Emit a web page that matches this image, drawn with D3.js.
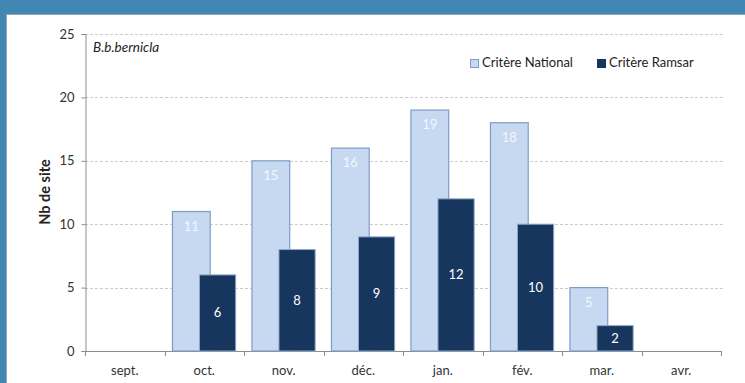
<!DOCTYPE html>
<html>
<head>
<meta charset="utf-8">
<script src="https://cdn.jsdelivr.net/npm/d3@7"></script>
<style>
  html, body { margin: 0; padding: 0; background: #4287b4; }
  svg { display: block; font-family: Lato, "Open Sans", sans-serif; }
</style>
</head>
<body>
<svg id="chart" width="745" height="383"></svg>
<script>
const categories = ["sept.", "oct.", "nov.", "déc.", "jan.", "fév.", "mar.", "avr."];
const nationalValues = [null, 11, 15, 16, 19, 18, 5, null];
const ramsarValues = [null, 6, 8, 9, 12, 10, 2, null];
const yTicks = [0, 5, 10, 15, 20, 25];
const seriesNames = ["Critère National", "Critère Ramsar"];
const speciesLabel = "B.b.bernicla";
const yTitle = "Nb de site";

const svg = d3.select("#chart");
const W = 745, H = 383;

// blue frame + white panel
svg.append("rect").attr("x", 0).attr("y", 0).attr("width", W).attr("height", H).attr("fill", "#4287b4");
svg.append("rect").attr("x", 6).attr("y", 14).attr("width", W - 6).attr("height", H - 14).attr("fill", "#9aa6ae");
svg.append("rect").attr("x", 7).attr("y", 15).attr("width", W - 7).attr("height", H - 15).attr("fill", "#ffffff");

const plot = { left: 85, right: 721, top: 34, bottom: 351 };

const x = d3.scaleBand().domain(categories).range([plot.left, plot.right]).padding(0);
const y = d3.scaleLinear().domain([0, 25]).range([plot.bottom, plot.top]);
const bw = x.bandwidth();

// gridlines
svg.append("g").selectAll("line").data(yTicks.filter(t => t > 0)).join("line")
  .attr("x1", plot.left).attr("x2", plot.right + 2)
  .attr("y1", d => Math.round(y(d)) + 0.5).attr("y2", d => Math.round(y(d)) + 0.5)
  .attr("stroke", "#cccccc").attr("stroke-dasharray", "3,2").attr("stroke-width", 1);

// y axis
const yAxis = svg.append("g").attr("transform", `translate(${plot.left + 0.5},0)`)
  .call(d3.axisLeft(y).tickValues(yTicks).tickSize(4).tickPadding(7));
yAxis.select(".domain").attr("stroke", "#8c8c8c");
yAxis.selectAll(".tick line").attr("stroke", "#8c8c8c");
yAxis.selectAll(".tick text").attr("font-size", 13).attr("fill", "#333").attr("font-family", "Lato, sans-serif");

// x axis
const xAxis = svg.append("g").attr("transform", `translate(0,${plot.bottom + 0.5})`)
  .call(d3.axisBottom(x).tickSize(0).tickPadding(14));
xAxis.select(".domain").remove();
xAxis.selectAll(".tick text").attr("font-size", 13).attr("fill", "#333").attr("font-family", "Lato, sans-serif");
svg.append("line").attr("x1", plot.left).attr("x2", plot.right)
  .attr("y1", plot.bottom + 0.5).attr("y2", plot.bottom + 0.5).attr("stroke", "#8c8c8c");
const bounds = categories.map(c => x(c)).concat([x(categories[categories.length - 1]) + bw]);
svg.append("g").selectAll("line").data(bounds).join("line")
  .attr("x1", d => Math.round(d) + 0.5).attr("x2", d => Math.round(d) + 0.5)
  .attr("y1", plot.bottom).attr("y2", plot.bottom + 5).attr("stroke", "#8c8c8c");

// bars
const natOff = bw * 0.10, natW = bw * 0.475;
const ramOff = bw * 0.44, ramW = bw * 0.455;

const natData = categories.map((c, i) => ({ c, v: nationalValues[i] })).filter(d => d.v != null);
const ramData = categories.map((c, i) => ({ c, v: ramsarValues[i] })).filter(d => d.v != null);

svg.append("g").selectAll("rect").data(natData).join("rect")
  .attr("x", d => x(d.c) + natOff).attr("width", natW)
  .attr("y", d => y(d.v)).attr("height", d => y(0) - y(d.v))
  .attr("fill", "#c6d9f1").attr("stroke", "#7f9bc6").attr("stroke-width", 1.2);

svg.append("g").selectAll("text").data(natData).join("text")
  .attr("x", d => x(d.c) + natOff + natW / 2).attr("y", d => y(d.v) + 16)
  .attr("text-anchor", "middle").attr("dominant-baseline", "middle")
  .attr("font-size", 13).attr("fill", "#f4f7fb").text(d => d.v);

svg.append("g").selectAll("rect").data(ramData).join("rect")
  .attr("x", d => x(d.c) + ramOff).attr("width", ramW)
  .attr("y", d => y(d.v)).attr("height", d => y(0) - y(d.v))
  .attr("fill", "#17365d").attr("stroke", "#8fa6c8").attr("stroke-width", 1);

svg.append("g").selectAll("text").data(ramData).join("text")
  .attr("x", d => x(d.c) + ramOff + ramW / 2).attr("y", d => (y(d.v) + y(0)) / 2 + 1)
  .attr("text-anchor", "middle").attr("dominant-baseline", "middle")
  .attr("font-size", 13).attr("fill", "#ffffff").text(d => d.v);

// species label
svg.append("text").attr("x", 93).attr("y", 52).attr("font-style", "italic")
  .attr("font-size", 13.5).attr("fill", "#222").text(speciesLabel);

// y title
svg.append("text").attr("transform", "translate(50,192) rotate(-90)")
  .attr("text-anchor", "middle").attr("font-weight", "bold").attr("font-size", 14.5)
  .attr("fill", "#222").text(yTitle);

// legend
const legendItems = [
  { name: seriesNames[0], x: 470, fill: "#c6d9f1", stroke: "#7f9bc6" },
  { name: seriesNames[1], x: 597, fill: "#17365d", stroke: "#17365d" }
];
const lg = svg.append("g").selectAll("g").data(legendItems).join("g");
lg.append("rect").attr("x", d => d.x + 0.5).attr("y", 59.5).attr("width", 8).attr("height", 8)
  .attr("fill", d => d.fill).attr("stroke", d => d.stroke);
lg.append("text").attr("x", d => d.x + 12).attr("y", 64).attr("dominant-baseline", "middle")
  .attr("font-size", 13).attr("fill", "#222").text(d => d.name);
</script>
</body>
</html>
